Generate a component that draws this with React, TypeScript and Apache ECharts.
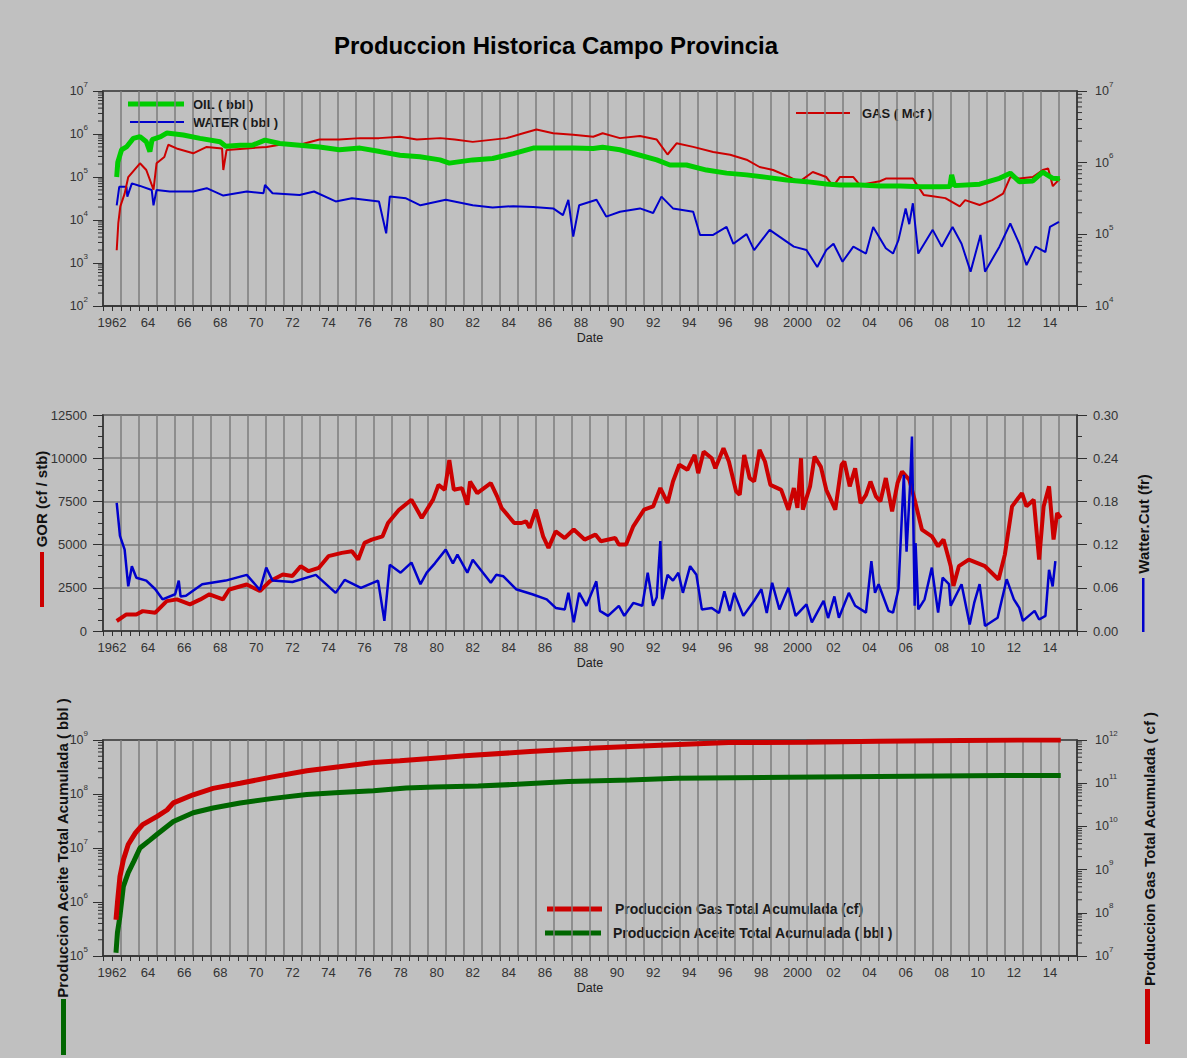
import React, { useEffect, useRef } from 'react';
import * as echarts from 'echarts';

const FONT = '"Liberation Sans", Arial, sans-serif';
const X_MIN = 1962;
const X_MAX = 2016;
const AX = '#303030';
const GRIDC = '#7c7c7c';
const LABEL = '#333333';

const C_OIL = '#00cc00';
const C_WATER = '#0000cc';
const C_GAS = '#cc0000';
const C_CUMOIL = '#006600';

// ---------- Panel 1: monthly rates ----------
const oilRate: [number, number][] = [
  [1962.76, 1.0e5], [1962.82, 2.2e5], [1963.03, 4.3e5], [1963.3, 5.0e5], [1963.68, 7.9e5],
  [1964.05, 8.7e5], [1964.4, 6.6e5], [1964.6, 3.9e5], [1964.72, 7.4e5], [1965.2, 8.7e5],
  [1965.53, 1.05e6], [1966.0, 1.0e6], [1966.45, 9.5e5], [1967.38, 7.9e5], [1968.49, 6.6e5],
  [1968.8, 5.2e5], [1969.6, 5.5e5], [1970.3, 5.5e5], [1970.98, 7.2e5], [1971.8, 6.0e5],
  [1972.9, 5.5e5], [1974.0, 5.0e5], [1975.1, 4.3e5], [1976.25, 4.7e5], [1977.35, 3.9e5],
  [1978.46, 3.2e5], [1979.57, 2.95e5], [1980.68, 2.5e5], [1981.2, 2.1e5], [1982.5, 2.5e5],
  [1983.6, 2.7e5], [1984.75, 3.5e5], [1985.85, 4.7e5], [1986.96, 4.7e5], [1988.07, 4.7e5],
  [1989.18, 4.6e5], [1989.7, 4.9e5], [1990.66, 4.3e5], [1991.77, 3.2e5], [1992.7, 2.5e5],
  [1993.43, 1.9e5], [1994.35, 1.9e5], [1995.46, 1.45e5], [1996.57, 1.23e5], [1997.68, 1.12e5],
  [1998.8, 9.8e4], [1999.9, 8.5e4], [2001.0, 7.8e4], [2002.1, 6.9e4], [2002.85, 6.5e4],
  [2003.96, 6.5e4], [2005.07, 6.2e4], [2006.2, 6.2e4], [2007.3, 5.9e4], [2008.4, 5.9e4],
  [2008.95, 6.0e4], [2009.05, 1.12e5], [2009.2, 6.3e4], [2010.6, 6.8e4], [2011.7, 9.3e4],
  [2012.3, 1.23e5], [2012.8, 7.8e4], [2013.55, 8.1e4], [2014.1, 1.3e5], [2014.66, 9.3e4],
  [2015.05, 9.1e4],
];

const waterRate: [number, number][] = [
  [1962.76, 2.2e4], [1962.9, 5.9e4], [1963.3, 5.9e4], [1963.35, 3.5e4], [1963.6, 7.1e4],
  [1964.05, 6.2e4], [1964.7, 5.0e4], [1964.8, 2.2e4], [1964.97, 5.0e4], [1965.7, 4.6e4],
  [1967.0, 4.6e4], [1967.75, 5.5e4], [1968.67, 3.7e4], [1969.97, 4.6e4], [1970.9, 4.2e4],
  [1970.98, 6.5e4], [1971.4, 4.2e4], [1972.9, 3.8e4], [1973.7, 4.6e4], [1974.9, 2.7e4],
  [1975.8, 3.2e4], [1977.3, 2.7e4], [1977.7, 4.9e3], [1977.9, 3.5e4], [1978.8, 3.2e4],
  [1979.6, 2.2e4], [1981.0, 2.95e4], [1982.5, 2.2e4], [1983.6, 1.95e4], [1984.75, 2.1e4],
  [1985.85, 2.0e4], [1986.96, 1.86e4], [1987.5, 1.3e4], [1987.8, 2.95e4], [1988.07, 4.1e3],
  [1988.4, 2.2e4], [1989.36, 2.95e4], [1989.9, 1.2e4], [1990.66, 1.55e4], [1991.77, 1.86e4],
  [1992.5, 1.45e4], [1992.96, 3.5e4], [1993.6, 1.86e4], [1994.72, 1.55e4], [1995.1, 4.5e3],
  [1995.83, 4.5e3], [1996.57, 6.9e3], [1996.95, 2.8e3], [1997.68, 4.7e3], [1998.1, 2.0e3],
  [1998.96, 5.9e3], [1999.5, 4.1e3], [2000.3, 2.4e3], [2001.0, 2.0e3], [2001.6, 8.1e2],
  [2002.1, 2.0e3], [2002.5, 2.8e3], [2003.0, 1.07e3], [2003.6, 2.4e3], [2004.3, 1.66e3],
  [2004.7, 6.9e3], [2005.4, 2.2e3], [2005.8, 1.66e3], [2006.1, 3.4e3], [2006.5, 1.86e4],
  [2006.7, 8.0e3], [2006.9, 2.45e4], [2007.2, 1.66e3], [2008.0, 5.9e3], [2008.5, 2.4e3],
  [2009.1, 6.9e3], [2009.6, 2.8e3], [2010.1, 6.3e2], [2010.65, 4.5e3], [2010.9, 6.3e2],
  [2011.7, 2.4e3], [2012.3, 8.3e3], [2012.8, 2.8e3], [2013.2, 8.9e2], [2013.7, 2.4e3],
  [2014.25, 1.8e3], [2014.5, 6.9e3], [2015.0, 9.1e3],
];

const gasRate: [number, number][] = [
  [1962.76, 6.0e4], [1962.85, 1.45e5], [1962.96, 2.45e5], [1963.2, 3.7e5], [1963.4, 6.3e5],
  [1964.05, 9.8e5], [1964.4, 7.9e5], [1964.8, 4.2e5], [1964.97, 9.8e5], [1965.4, 1.2e6],
  [1965.62, 1.78e6], [1966.08, 1.58e6], [1967.0, 1.35e6], [1967.75, 1.66e6], [1968.6, 1.58e6],
  [1968.67, 7.9e5], [1968.85, 1.5e6], [1969.97, 1.58e6], [1971.07, 1.66e6], [1971.8, 1.78e6],
  [1972.9, 1.78e6], [1974.0, 2.1e6], [1975.1, 2.1e6], [1976.25, 2.2e6], [1977.3, 2.2e6],
  [1978.46, 2.3e6], [1979.4, 2.1e6], [1980.7, 2.2e6], [1981.5, 2.1e6], [1982.5, 1.95e6],
  [1984.37, 2.2e6], [1985.3, 2.57e6], [1986.03, 2.9e6], [1986.96, 2.57e6], [1988.07, 2.45e6],
  [1989.18, 2.3e6], [1989.7, 2.57e6], [1990.66, 2.2e6], [1991.77, 2.35e6], [1992.7, 2.1e6],
  [1993.3, 1.3e6], [1993.8, 1.86e6], [1994.72, 1.66e6], [1995.83, 1.41e6], [1996.77, 1.29e6],
  [1997.68, 1.1e6], [1998.4, 8.7e5], [1999.15, 7.9e5], [2000.07, 6.3e5], [2000.6, 5.4e5],
  [2001.35, 7.4e5], [2002.1, 6.3e5], [2002.48, 4.7e5], [2002.85, 6.3e5], [2003.6, 6.3e5],
  [2003.96, 4.9e5], [2005.07, 5.5e5], [2005.4, 6.0e5], [2006.9, 6.0e5], [2007.5, 3.55e5],
  [2008.0, 3.4e5], [2008.7, 3.2e5], [2009.5, 2.45e5], [2009.8, 3.0e5], [2010.6, 2.57e5],
  [2011.3, 3.0e5], [2011.9, 3.7e5], [2012.3, 6.3e5], [2012.8, 6.0e5], [2013.55, 6.3e5],
  [2014.1, 7.9e5], [2014.4, 8.3e5], [2014.66, 4.7e5], [2015.05, 6.0e5],
];

// ---------- Panel 2: GOR and water cut ----------
const gorSeries: [number, number][] = [
  [1962.76, 580], [1963.3, 960], [1963.85, 960], [1964.2, 1150], [1964.9, 1060],
  [1965.53, 1730], [1966.1, 1830], [1966.82, 1540], [1967.4, 1830], [1967.9, 2120],
  [1968.65, 1830], [1969.0, 2400], [1969.97, 2690], [1970.7, 2310], [1971.25, 2880],
  [1971.97, 3270], [1972.5, 3180], [1972.96, 3750], [1973.4, 3460], [1973.96, 3650],
  [1974.5, 4330], [1975.24, 4520], [1975.8, 4620], [1976.15, 4140], [1976.5, 5100],
  [1976.9, 5290], [1977.5, 5480], [1977.8, 6250], [1978.4, 7000], [1979.1, 7600],
  [1979.67, 6540], [1980.3, 7600], [1980.6, 8460], [1980.95, 8170], [1981.2, 9900],
  [1981.45, 8170], [1981.9, 8270], [1982.2, 7310], [1982.35, 8650], [1982.75, 7980],
  [1983.5, 8560], [1983.85, 7790], [1984.1, 7120], [1984.8, 6250], [1985.2, 6250],
  [1985.45, 6350], [1985.65, 5970], [1986.0, 7020], [1986.4, 5480], [1986.7, 4810],
  [1987.1, 5770], [1987.6, 5380], [1988.1, 5870], [1988.7, 5290], [1989.3, 5580],
  [1989.6, 5190], [1990.4, 5380], [1990.6, 5000], [1991.0, 5000], [1991.4, 6060],
  [1992.0, 7020], [1992.5, 7210], [1992.9, 8270], [1993.3, 7410], [1993.6, 8650],
  [1993.95, 9620], [1994.4, 9330], [1994.8, 10190], [1995.0, 9130], [1995.3, 10380],
  [1995.75, 10000], [1995.95, 9420], [1996.4, 10580], [1996.7, 9810], [1997.1, 8080],
  [1997.3, 7880], [1997.55, 10190], [1997.85, 8850], [1998.1, 8650], [1998.4, 10480],
  [1998.7, 9810], [1999.0, 8460], [1999.6, 8170], [2000.0, 7020], [2000.3, 8270],
  [2000.5, 7120], [2000.7, 10000], [2000.8, 7020], [2001.2, 8370], [2001.45, 10100],
  [2001.8, 9500], [2002.1, 8170], [2002.6, 7020], [2002.95, 9620], [2003.1, 9810],
  [2003.4, 8370], [2003.7, 9420], [2004.0, 7400], [2004.3, 7880], [2004.55, 8650],
  [2004.85, 7790], [2005.1, 7500], [2005.4, 8850], [2005.75, 6920], [2006.05, 8560],
  [2006.3, 9230], [2006.7, 8750], [2007.0, 7600], [2007.4, 5870], [2007.95, 5480],
  [2008.3, 4900], [2008.6, 5290], [2009.0, 3750], [2009.15, 2600], [2009.45, 3750],
  [2010.0, 4130], [2010.9, 3750], [2011.65, 2980], [2012.0, 4420], [2012.4, 7210],
  [2012.95, 7980], [2013.2, 7210], [2013.6, 7600], [2013.9, 4130], [2014.15, 7210],
  [2014.45, 8370], [2014.7, 5290], [2014.9, 6830], [2015.1, 6540],
];

const waterCut: [number, number][] = [
  [1962.76, 0.178], [1962.94, 0.132], [1963.2, 0.113], [1963.4, 0.062], [1963.6, 0.09],
  [1963.85, 0.074], [1964.4, 0.07], [1964.9, 0.058], [1965.3, 0.044], [1966.0, 0.051],
  [1966.2, 0.07], [1966.3, 0.048], [1966.6, 0.049], [1967.5, 0.065], [1968.8, 0.07],
  [1969.97, 0.078], [1970.7, 0.057], [1971.05, 0.088], [1971.4, 0.07], [1972.5, 0.068],
  [1973.8, 0.078], [1974.9, 0.053], [1975.4, 0.071], [1976.3, 0.06], [1977.25, 0.07],
  [1977.6, 0.014], [1977.9, 0.092], [1978.5, 0.081], [1979.1, 0.095], [1979.6, 0.065],
  [1979.95, 0.081], [1980.4, 0.094], [1981.0, 0.113], [1981.4, 0.094], [1981.65, 0.106],
  [1982.2, 0.081], [1982.5, 0.099], [1983.0, 0.083], [1983.5, 0.067], [1983.8, 0.078],
  [1984.2, 0.076], [1984.9, 0.058], [1985.8, 0.051], [1986.6, 0.044], [1987.1, 0.032],
  [1987.6, 0.03], [1987.8, 0.053], [1988.1, 0.012], [1988.4, 0.053], [1988.8, 0.035],
  [1989.35, 0.069], [1989.55, 0.028], [1990.0, 0.021], [1990.6, 0.035], [1990.9, 0.021],
  [1991.4, 0.039], [1991.9, 0.035], [1992.2, 0.081], [1992.5, 0.035], [1992.7, 0.047],
  [1992.9, 0.125], [1993.0, 0.044], [1993.3, 0.078], [1993.6, 0.07], [1993.9, 0.081],
  [1994.15, 0.053], [1994.55, 0.09], [1994.9, 0.078], [1995.2, 0.03], [1995.75, 0.032],
  [1996.15, 0.025], [1996.45, 0.055], [1996.75, 0.028], [1997.0, 0.053], [1997.5, 0.021],
  [1998.1, 0.042], [1998.5, 0.058], [1998.8, 0.025], [1999.1, 0.067], [1999.5, 0.03],
  [2000.0, 0.06], [2000.4, 0.021], [2001.0, 0.037], [2001.3, 0.012], [2001.95, 0.042],
  [2002.2, 0.018], [2002.55, 0.048], [2002.8, 0.0185], [2003.35, 0.053], [2003.7, 0.035],
  [2004.3, 0.0255], [2004.6, 0.097], [2004.8, 0.053], [2005.0, 0.065], [2005.55, 0.028],
  [2005.8, 0.0255], [2006.1, 0.058], [2006.4, 0.217], [2006.55, 0.11], [2006.75, 0.205],
  [2006.85, 0.27], [2007.0, 0.035], [2007.05, 0.122], [2007.2, 0.03], [2007.55, 0.044],
  [2007.95, 0.088], [2008.3, 0.0255], [2008.55, 0.074], [2008.9, 0.065], [2009.0, 0.035],
  [2009.6, 0.065], [2010.05, 0.009], [2010.3, 0.039], [2010.6, 0.065], [2010.9, 0.007],
  [2011.6, 0.0185], [2012.1, 0.072], [2012.5, 0.044], [2012.8, 0.032], [2013.0, 0.014],
  [2013.65, 0.028], [2013.9, 0.016], [2014.25, 0.021], [2014.45, 0.085], [2014.65, 0.062],
  [2014.8, 0.097],
];

// ---------- Panel 3: cumulative production ----------
const cumOil: [number, number][] = [
  [1962.72, 1.15e5], [1962.8, 2.7e5], [1962.94, 5.5e5], [1963.13, 1.95e6], [1963.4, 3.5e6],
  [1963.7, 5.6e6], [1964.05, 1.0e7], [1964.6, 1.4e7], [1965.0, 1.8e7], [1965.9, 3.1e7],
  [1967.0, 4.5e7], [1968.1, 5.5e7], [1969.6, 6.8e7], [1971.44, 8.3e7], [1973.3, 9.8e7],
  [1975.1, 1.07e8], [1977.0, 1.15e8], [1978.8, 1.29e8], [1980.4, 1.35e8], [1982.8, 1.41e8],
  [1984.95, 1.51e8], [1987.8, 1.7e8], [1991.2, 1.82e8], [1993.8, 1.95e8], [1999.9, 2.04e8],
  [2011.9, 2.19e8], [2015.1, 2.2e8],
];

const cumGas: [number, number][] = [
  [1962.72, 6.9e7], [1962.8, 1.7e8], [1962.94, 6.9e8], [1963.13, 1.7e9], [1963.4, 3.8e9],
  [1963.8, 7.1e9], [1964.2, 1.1e10], [1965.0, 1.7e10], [1965.55, 2.4e10], [1965.9, 3.5e10],
  [1967.0, 5.4e10], [1968.1, 7.6e10], [1969.6, 1.0e11], [1971.4, 1.4e11], [1973.3, 1.95e11],
  [1975.1, 2.4e11], [1977.0, 3.0e11], [1978.46, 3.3e11], [1980.7, 3.9e11], [1982.07, 4.3e11],
  [1985.67, 5.4e11], [1989.27, 6.5e11], [1992.9, 7.6e11], [1996.7, 8.7e11], [2001.0, 8.9e11],
  [2005.0, 9.3e11], [2012.8, 1.0e12], [2015.1, 1.0e12],
];

const LOG_MINOR = [2, 3, 4, 5, 6, 7, 8, 9];

function minorLogTicks(lo: number, hi: number): number[] {
  const out: number[] = [];
  for (let e = lo; e < hi; e++) for (const m of LOG_MINOR) out.push(m * Math.pow(10, e));
  return out;
}

function yearLabel(v: number): string {
  const y = Math.round(v - 0.5);
  if (Math.abs(v - 0.5 - y) > 1e-6 || y % 2 !== 0) return '';
  if (y === 1962 || y === 2000) return String(y);
  return String(y % 100).padStart(2, '0');
}

function logLabel(v: number): string {
  const e = Math.round(Math.log10(v));
  return `{b|10}{e|${e}}`;
}

const RICH = {
  b: { fontSize: 12.5, color: LABEL, fontFamily: FONT },
  e: { fontSize: 8, color: LABEL, fontFamily: FONT, padding: [0, 0, 14, 0] },
};

function xAxesFor(gi: number): any[] {
  return [
    {
      type: 'value', gridIndex: gi, min: X_MIN, max: X_MAX, interval: 0.5, position: 'bottom',
      name: 'Date', nameLocation: 'middle', nameGap: 25,
      nameTextStyle: { fontSize: 12.5, color: '#222', fontFamily: FONT },
      axisLine: { show: true, lineStyle: { color: AX, width: 1.5 } },
      axisTick: { show: true, length: 5, lineStyle: { color: AX, width: 1 } },
      axisLabel: { formatter: yearLabel, fontSize: 13, color: LABEL, margin: 10, fontFamily: FONT },
      splitLine: { show: false },
    },
    {
      type: 'value', gridIndex: gi, min: X_MIN, max: X_MAX, interval: 1, position: 'top',
      axisLine: { show: false }, axisTick: { show: false }, axisLabel: { show: false },
      splitLine: { show: true, lineStyle: { color: GRIDC, width: 1.5 } },
    },
  ];
}

function logAxis(gi: number, lo: number, hi: number, pos: 'left' | 'right', margin: number): any {
  return {
    type: 'log', logBase: 10, gridIndex: gi, min: Math.pow(10, lo), max: Math.pow(10, hi),
    splitNumber: hi - lo, position: pos,
    axisLine: { show: true, lineStyle: { color: AX, width: 1.5 } },
    axisTick: { show: true, length: 10, lineStyle: { color: AX, width: 1 } },
    axisLabel: { formatter: logLabel, rich: RICH, margin, color: LABEL },
    splitLine: { show: false },
  };
}

function minorTickSeries(xi: number, yi: number, lo: number, hi: number, side: number): any {
  return {
    type: 'custom', xAxisIndex: xi, yAxisIndex: yi, silent: true, clip: false, z: 5,
    data: minorLogTicks(lo, hi).map((v) => [side < 0 ? X_MIN : X_MAX, v]),
    renderItem: (_p: any, api: any) => {
      const p = api.coord([api.value(0), api.value(1)]);
      return {
        type: 'line',
        shape: { x1: p[0], y1: p[1], x2: p[0] + side * 5, y2: p[1] },
        style: { stroke: AX, lineWidth: 1 },
      };
    },
  };
}

function lineSeries(name: string, data: [number, number][], xi: number, yi: number, color: string, width: number): any {
  return {
    name, type: 'line', xAxisIndex: xi, yAxisIndex: yi, data,
    showSymbol: false, symbol: 'none', smooth: false,
    lineStyle: { color, width }, itemStyle: { color }, z: 3,
  };
}

function legendItem(x1: number, x2: number, y: number, color: string, w: number, text: string, tx: number, size: number): any[] {
  return [
    { type: 'line', shape: { x1, y1: y, x2, y2: y }, style: { stroke: color, lineWidth: w } },
    {
      type: 'text', x: tx, y,
      style: { text, fill: '#1a1a1a', font: `bold ${size}px ${FONT}`, align: 'left', verticalAlign: 'middle' },
    },
  ];
}

function vTitle(x: number, y: number, text: string): any {
  return {
    type: 'text', x, y, rotation: Math.PI / 2,
    style: { text, fill: '#111', font: `bold 15px ${FONT}`, align: 'center', verticalAlign: 'middle' },
  };
}

export default function App() {
  const ref = useRef<HTMLDivElement>(null);

  useEffect(() => {
    if (!ref.current) return;
    const chart = echarts.init(ref.current, undefined, { renderer: 'svg' });
    const gridBase = { show: true, borderColor: AX, borderWidth: 1.5, backgroundColor: 'transparent', containLabel: false };

    const option: any = {
      animation: false,
      backgroundColor: '#c0c0c0',
      textStyle: { fontFamily: FONT },
      title: {
        text: 'Produccion Historica Campo Provincia', left: 551, top: 28, textAlign: 'center',
        textStyle: { fontSize: 24, fontWeight: 'bold', color: '#000', fontFamily: FONT },
      },
      grid: [
        { ...gridBase, left: 103, top: 91, width: 974, height: 215 },
        { ...gridBase, left: 103, top: 415, width: 974, height: 216 },
        { ...gridBase, left: 103, top: 740, width: 974, height: 216 },
      ],
      xAxis: [...xAxesFor(0), ...xAxesFor(1), ...xAxesFor(2)],
      yAxis: [
        logAxis(0, 2, 7, 'left', 15),
        logAxis(0, 4, 7, 'right', 18),
        {
          type: 'value', gridIndex: 1, min: 0, max: 12500, interval: 2500, position: 'left',
          axisLine: { show: true, lineStyle: { color: AX, width: 1.5 } },
          axisTick: { show: true, length: 10, lineStyle: { color: AX } },
          minorTick: { show: true, splitNumber: 4, length: 5, lineStyle: { color: AX } },
          axisLabel: { fontSize: 13, color: LABEL, margin: 16, fontFamily: FONT, formatter: (v: number) => String(Math.round(v)) },
          splitLine: { show: true, lineStyle: { color: GRIDC, width: 1.5 } },
        },
        {
          type: 'value', gridIndex: 1, min: 0, max: 0.3, interval: 0.06, position: 'right',
          axisLine: { show: true, lineStyle: { color: AX, width: 1.5 } },
          axisTick: { show: true, length: 10, lineStyle: { color: AX } },
          minorTick: { show: true, splitNumber: 2, length: 5, lineStyle: { color: AX } },
          axisLabel: { fontSize: 13, color: LABEL, margin: 16, fontFamily: FONT, formatter: (v: number) => v.toFixed(2) },
          splitLine: { show: false },
        },
        logAxis(2, 5, 9, 'left', 15),
        logAxis(2, 7, 12, 'right', 18),
      ],
      series: [
        lineSeries('WATER ( bbl )', waterRate, 0, 0, C_WATER, 2),
        lineSeries('GAS ( Mcf )', gasRate, 0, 1, C_GAS, 2),
        lineSeries('OIL ( bbl )', oilRate, 0, 0, C_OIL, 5),
        lineSeries('GOR (cf / stb)', gorSeries, 2, 2, C_GAS, 4),
        lineSeries('Watter.Cut (fr)', waterCut, 2, 3, C_WATER, 2.5),
        lineSeries('Produccion Aceite Total Acumulada ( bbl )', cumOil, 4, 4, C_CUMOIL, 5),
        lineSeries('Produccion Gas Total Acumulada (cf)', cumGas, 4, 5, C_GAS, 5),
        minorTickSeries(0, 0, 2, 7, -1),
        minorTickSeries(0, 1, 4, 7, 1),
        minorTickSeries(4, 4, 5, 9, -1),
        minorTickSeries(4, 5, 7, 12, 1),
      ],
      graphic: [
        ...legendItem(128, 184, 104, C_OIL, 5, 'OIL ( bbl )', 193, 13),
        ...legendItem(130, 184, 122, C_WATER, 2, 'WATER ( bbl )', 193, 13),
        ...legendItem(796, 850, 113, C_GAS, 2, 'GAS ( Mcf )', 862, 13),
        ...legendItem(547, 602, 909, C_GAS, 5, 'Produccion Gas Total Acumulada (cf)', 615, 14),
        ...legendItem(545, 601, 933, C_CUMOIL, 5, 'Produccion Aceite Total Acumulada ( bbl )', 613, 14),
        vTitle(41, 499, 'GOR (cf / stb)'),
        { type: 'rect', shape: { x: 40, y: 552, width: 4, height: 55 }, style: { fill: C_GAS } },
        vTitle(1143, 524, 'Watter.Cut (fr)'),
        { type: 'rect', shape: { x: 1142, y: 578, width: 2.5, height: 54 }, style: { fill: C_WATER } },
        vTitle(62, 848, 'Produccion Aceite Total Acumulada ( bbl )'),
        { type: 'rect', shape: { x: 61, y: 999, width: 5, height: 56 }, style: { fill: C_CUMOIL } },
        vTitle(1149, 849, 'Produccion Gas Total Acumulada ( cf )'),
        { type: 'rect', shape: { x: 1145, y: 989, width: 5, height: 55 }, style: { fill: C_GAS } },
      ],
    };

    chart.setOption(option);
    return () => chart.dispose();
  }, []);

  return (
    <div
      ref={ref}
      style={{ position: 'absolute', left: 0, top: 0, width: '1187px', height: '1058px' }}
    />
  );
}
